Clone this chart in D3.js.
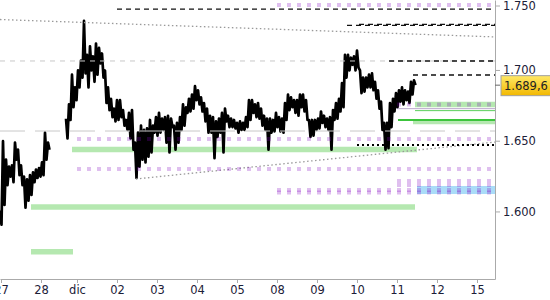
<!DOCTYPE html>
<html>
<head>
<meta charset="utf-8">
<script src="https://cdn.jsdelivr.net/npm/d3@7"></script>
<style>
  body { margin: 0; background: #fff; }
  svg { display: block; font-family: "DejaVu Sans", sans-serif; }
</style>
</head>
<body>
<svg id="chart" width="550" height="300"></svg>
<script>
// x runs in trading days counted from the session of the 27th
const tickDays = [0, 1, 1.9, 2.9, 3.9, 4.9, 5.9, 6.9, 7.9, 8.9, 9.9, 10.9, 11.9];
const tickLabels = ["27", "28", "dic", "02", "03", "04", "05", "08", "09", "10", "11", "12", "15"];
const yTicks = [1600, 1650, 1700, 1750];
const lastPrice = 1689.6;

// price sampled every 0.075 day, high / low of each slot
const stepDays = 0.075;
const seg1Start = -0.025;
const hi1 = [1601, 1650, 1637, 1632, 1633, 1649, 1644, 1633, 1625, 1623, 1626, 1628, 1630, 1631, 1635, 1656, 1649];
const lo1 = [1591, 1605, 1619, 1625, 1621, 1637, 1626, 1619, 1603, 1608, 1612, 1621, 1624, 1625, 1626, 1637, 1644];
const seg2Start = 1.625;
const hi2 = [1666, 1676, 1697, 1688, 1700, 1707, 1735, 1711, 1717, 1710,
             1719, 1716, 1712, 1700, 1688, 1680, 1673, 1679, 1679, 1672,
             1665, 1670, 1672, 1649, 1656, 1661, 1658, 1659, 1665, 1661,
             1667, 1670, 1666, 1667, 1668, 1666, 1661, 1663, 1667, 1676,
             1674, 1680, 1683, 1689, 1686, 1681, 1677, 1673, 1668, 1667,
             1664, 1666, 1670, 1673, 1668, 1666, 1665, 1663, 1664, 1663,
             1667, 1679, 1679, 1676, 1677, 1673, 1668, 1666, 1666, 1665,
             1670, 1667, 1666, 1677, 1683, 1681, 1679, 1679, 1683, 1683,
             1679, 1665, 1665, 1665, 1666, 1671, 1668, 1666, 1667, 1672,
             1677, 1680, 1691, 1711, 1711, 1709, 1710, 1714, 1700, 1695,
             1695, 1697, 1698, 1692, 1686, 1678, 1663, 1663, 1677, 1680,
             1684, 1686, 1688, 1686, 1685, 1692, 1693];
const lo2 = [1652, 1665, 1674, 1679, 1688, 1695, 1698, 1688, 1700, 1692,
             1697, 1705, 1695, 1677, 1672, 1667, 1664, 1665, 1667, 1661,
             1658, 1652, 1644, 1624, 1632, 1637, 1635, 1639, 1642, 1656,
             1654, 1656, 1658, 1649, 1642, 1660, 1644, 1649, 1658, 1661,
             1670, 1671, 1673, 1679, 1676, 1671, 1664, 1656, 1656, 1638,
             1653, 1656, 1642, 1664, 1660, 1660, 1659, 1656, 1658, 1658,
             1660, 1665, 1670, 1667, 1666, 1661, 1658, 1644, 1656, 1657,
             1660, 1657, 1656, 1665, 1672, 1674, 1670, 1668, 1674, 1671,
             1665, 1653, 1654, 1658, 1659, 1663, 1660, 1658, 1644, 1665,
             1666, 1671, 1674, 1695, 1700, 1704, 1700, 1702, 1684, 1685,
             1688, 1688, 1686, 1680, 1673, 1658, 1644, 1645, 1660, 1671,
             1674, 1678, 1676, 1679, 1677, 1683, 1689.6];

// levels: [fromDay, toDay, price]
const greenZones = [[1.775, 10.4, 1644.2], [0.75, 10.35, 1603.5], [0.75, 1.8, 1571.9], [10.35, 12.35, 1676.0], [10.3, 12.35, 1663.2]];
const blueZones = [[10.4, 12.35, 1615.5]];
const greenLines = [[9.925, 12.35, 1665.0], [10.35, 12.35, 1671.6]];
const violetLines = [[9.9, 12.35, 1673.0]];
// [fromDay, price]
const purpleDots = [[6.9, 1746.3], [1.9, 1651.6], [1.9, 1630.4], [9.9, 1621.9], [9.9, 1619.1], [6.9, 1615.5], [6.9, 1613.8], [9.9, 1676.0]];
const blackDashes = [[2.9, 1743.4], [8.65, 1731.8], [8.95, 1732.6], [9.7, 1706.7], [10.3, 1696.8]];
const blackDots = [[8.9, 1647.3]];
const grayShortDash = [1706.7];
const grayLongDash = [1657.2];
// [fromDay, fromPrice, toDay, toPrice]
const trendLines = [[-0.025, 1736.0, 12.35, 1723.7], [3.375, 1623.3, 12.35, 1649.4]];

let svg = d3.select("#chart");
let plotRight = 495, plotBottom = 279;

let x = d3.scaleLinear().domain([-0.025, 12.35]).range([0, plotRight]);
let y = d3.scaleLinear().domain([1552.6, 1749.8]).range([plotBottom, 0]);
let endDay = x.domain()[1];

let itLocale = d3.formatLocale({decimal: ",", thousands: ".", grouping: [3], currency: ["", "€"]});
let fmtTick = itLocale.format(",.0f");
let fmtLast = itLocale.format(",.1f");

let defs = svg.append("defs");
defs.append("clipPath").attr("id", "plotClip")
    .append("rect").attr("width", plotRight).attr("height", plotBottom);
let grad = defs.append("linearGradient").attr("id", "lastGrad")
    .attr("x1", 0).attr("x2", 0).attr("y1", 0).attr("y2", 1);
grad.append("stop").attr("offset", "0%").attr("stop-color", "#ffe866");
grad.append("stop").attr("offset", "100%").attr("stop-color", "#f2b800");

let plot = svg.append("g").attr("clip-path", "url(#plotClip)");

function hLines(g, data, fromIdx, toIdx, priceIdx) {
    return g.selectAll("line").data(data).join("line")
        .attr("x1", d => x(d[fromIdx]))
        .attr("x2", d => toIdx == null ? x(endDay) : x(d[toIdx]))
        .attr("y1", d => y(d[priceIdx]))
        .attr("y2", d => y(d[priceIdx]));
}

// zones under the price
hLines(plot.append("g"), greenZones, 0, 1, 2)
    .attr("stroke", "#b5e8b0")
    .attr("stroke-width", (d, i) => i == 4 ? 3.5 : 5.5);
hLines(plot.append("g"), blueZones, 0, 1, 2)
    .attr("stroke", "#aadcf8").attr("stroke-width", 8);

// price line, drawn as high/low zigzag
function zigzag(start, hi, lo) {
    let pts = [];
    hi.forEach((h, i) => {
        let t = start + i * stepDays;
        pts.push([t, h]);
        pts.push([t + stepDays / 2, lo[i]]);
    });
    return pts;
}
let priceLine = d3.line().x(d => x(d[0])).y(d => y(d[1]));
plot.append("g").selectAll("path")
    .data([zigzag(seg1Start, hi1, lo1), zigzag(seg2Start, hi2, lo2)])
    .join("path")
    .attr("d", priceLine)
    .attr("fill", "none")
    .attr("stroke", "#000")
    .attr("stroke-width", 2.7)
    .attr("stroke-linejoin", "round");

// reference lines over the price
plot.append("g").selectAll("line").data(grayShortDash).join("line")
    .attr("x1", 0).attr("x2", plotRight)
    .attr("y1", d => y(d)).attr("y2", d => y(d))
    .attr("stroke", "#c8c8c8").attr("stroke-dasharray", "5,5");
plot.append("g").selectAll("line").data(grayLongDash).join("line")
    .attr("x1", 0).attr("x2", plotRight)
    .attr("y1", d => y(d)).attr("y2", d => y(d))
    .attr("stroke", "#c8c8c8").attr("stroke-dasharray", "25,10");

plot.append("g").selectAll("line").data(trendLines).join("line")
    .attr("x1", d => x(d[0])).attr("y1", d => y(d[1]))
    .attr("x2", d => x(d[2])).attr("y2", d => y(d[3]))
    .attr("stroke", "#999").attr("stroke-width", 1.3)
    .attr("stroke-dasharray", "1.5,2.5");

hLines(plot.append("g"), greenLines, 0, 1, 2)
    .attr("stroke", (d, i) => i == 0 ? "#3cc43c" : "#5ccf5c")
    .attr("stroke-width", (d, i) => i == 0 ? 2 : 1);
hLines(plot.append("g"), violetLines, 0, 1, 2)
    .attr("stroke", "#8a6aa8").attr("stroke-opacity", 0.6).attr("stroke-width", 1);

hLines(plot.append("g"), purpleDots, 0, null, 1)
    .attr("stroke", "#8000c0").attr("stroke-opacity", 0.25)
    .attr("stroke-width", 4).attr("stroke-dasharray", "4,6");

hLines(plot.append("g"), blackDashes, 0, null, 1)
    .attr("stroke", "#111").attr("stroke-width", 1.3)
    .attr("stroke-dasharray", "5,4");
hLines(plot.append("g"), blackDots, 0, null, 1)
    .attr("stroke", "#000").attr("stroke-width", 2)
    .attr("stroke-dasharray", "2,3");

// axes
let xAxis = svg.append("g")
    .attr("transform", `translate(0,${plotBottom})`)
    .call(d3.axisBottom(x).tickValues(tickDays)
        .tickFormat((d, i) => tickLabels[i]).tickSize(4).tickSizeOuter(0));
let yAxis = svg.append("g")
    .attr("transform", `translate(${plotRight},0)`)
    .call(d3.axisRight(y).tickValues(yTicks).tickFormat(fmtTick).tickSize(5).tickSizeOuter(0));

[xAxis, yAxis].forEach(a => {
    a.attr("font-family", "DejaVu Sans, sans-serif").attr("font-size", 11.5);
    a.select(".domain").attr("stroke", "#aaa");
    a.selectAll(".tick line").attr("stroke", "#aaa");
    a.selectAll(".tick text").attr("fill", "#1c2038");
});
// keep the top label inside the picture
yAxis.selectAll(".tick").attr("transform", d => `translate(0,${Math.max(y(d), 6)})`);

// last price marker
let yl = y(lastPrice);
let lastG = svg.append("g");
lastG.append("line")
    .attr("x1", plotRight).attr("x2", plotRight + 5)
    .attr("y1", yl).attr("y2", yl).attr("stroke", "#666");
lastG.append("rect")
    .attr("x", plotRight + 6).attr("y", yl - 9.5)
    .attr("width", 52).attr("height", 20)
    .attr("fill", "url(#lastGrad)").attr("stroke", "#a0a0a0");
lastG.append("text")
    .attr("x", plotRight + 9).attr("y", yl + 0.5)
    .attr("dy", "0.35em")
    .attr("font-size", 11.5).attr("fill", "#222")
    .text(fmtLast(lastPrice));
</script>
</body>
</html>
